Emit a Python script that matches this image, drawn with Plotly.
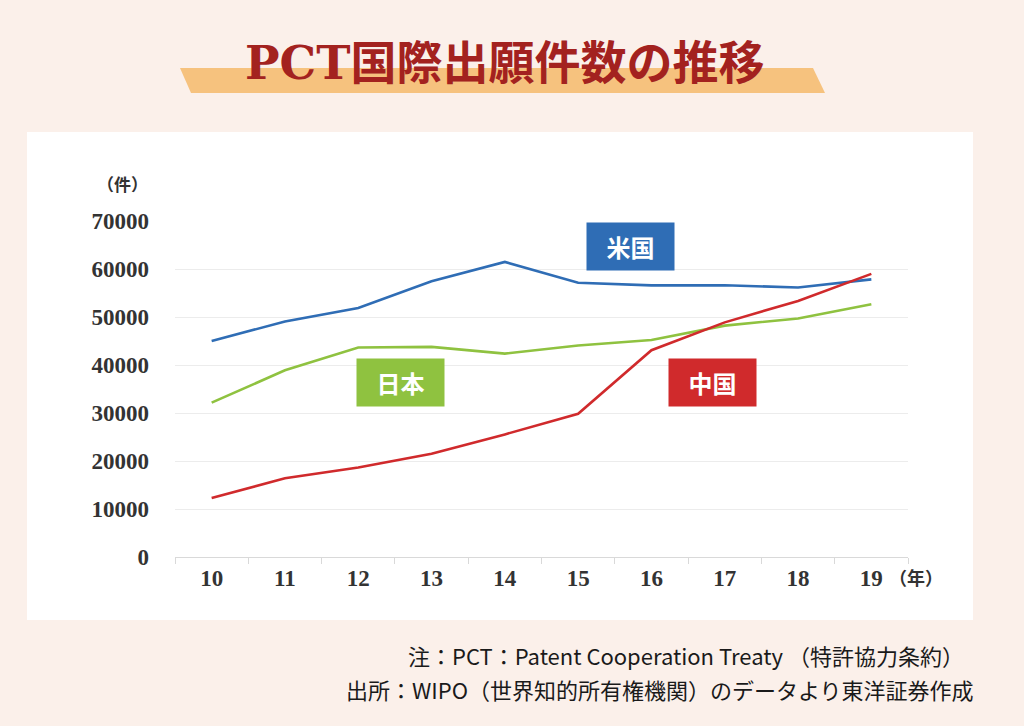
import plotly.graph_objects as go

years = ["10", "11", "12", "13", "14", "15", "16", "17", "18", "19"]
usa = [45008, 49056, 51877, 57441, 61484, 57121, 56595, 56624, 56142, 57840]
japan = [32150, 38888, 43660, 43771, 42381, 44053, 45209, 48205, 49702, 52660]
china = [12296, 16402, 18627, 21514, 25539, 29846, 43091, 48882, 53349, 58990]
y_ticks = [0, 10000, 20000, 30000, 40000, 50000, 60000, 70000]

W, H = 1024, 726
L, R, T, B = 175, 908, 221, 557


def px(x):
    return (x - L) / (R - L)


def py(y):
    return (B - y) / (B - T)


BLUE = "#2f6db5"
GREEN = "#8fc240"
RED = "#d02a2c"
BG = "#fbf0ea"
TICKFONT = dict(family="Liberation Serif", size=23, color="#333333", weight="bold")

fig = go.Figure()
for name, vals, col in [("米国", usa, BLUE), ("日本", japan, GREEN), ("中国", china, RED)]:
    fig.add_trace(go.Scatter(x=years, y=vals, mode="lines", name=name,
                             line=dict(color=col, width=2.6), showlegend=False))

shapes = [
    dict(type="rect", xref="paper", yref="paper", x0=px(27), x1=px(973), y0=py(620), y1=py(132),
         fillcolor="white", line=dict(width=0), layer="below"),
    dict(type="path", xref="paper", yref="paper",
         path=f"M {px(180)} {py(68)} L {px(813)} {py(68)} L {px(825)} {py(93)} L {px(191)} {py(93)} Z",
         fillcolor="#f6c27e", line=dict(width=0), layer="below"),
]


def ann(text, x, y, font, **kw):
    d = dict(text=text, xref="paper", yref="paper", x=px(x), y=py(y), showarrow=False,
             xanchor="center", yanchor="middle", font=font)
    d.update(kw)
    return d


LBL = dict(family="Noto Sans CJK JP", size=24, color="white", weight="bold")
NOTE = dict(family="Noto Sans CJK JP", size=22, color="#1a1a1a")

annotations = [
    ann("<b>PCT国際出願件数の推移</b>", 504, 63,
        dict(family="DejaVu Serif, Noto Sans CJK JP", size=46, color="#a3221f")),
    ann("（件）", 122, 186, dict(family="Liberation Serif, Noto Sans CJK JP", size=17, color="#333333", weight="bold")),
    ann("（年）", 916, 578, dict(family="Liberation Serif, Noto Sans CJK JP", size=18, color="#333333", weight="bold")),
    ann("米国", 630, 247, LBL, width=85, height=45, bgcolor=BLUE),
    ann("日本", 400, 382, LBL, width=85, height=45, bgcolor=GREEN),
    ann("中国", 712, 382, LBL, width=85, height=45, bgcolor=RED),
    ann("注：PCT：Patent Cooperation Treaty （特許協力条約）", 966, 655, NOTE, xanchor="right"),
    ann("出所：WIPO（世界知的所有権機関）のデータより東洋証券作成", 976, 689, NOTE, xanchor="right"),
]

fig.update_layout(
    width=W, height=H,
    margin=dict(l=L, r=W - R, t=T, b=H - B),
    paper_bgcolor=BG, plot_bgcolor="rgba(0,0,0,0)",
    shapes=shapes, annotations=annotations,
    xaxis=dict(type="category", tickson="boundaries", ticks="outside", ticklen=6,
               tickcolor="#d9d9d9", showline=True, linecolor="#d9d9d9", linewidth=1,
               showgrid=False, tickfont=TICKFONT, range=[-0.5, 9.5]),
    yaxis=dict(range=[0, 70000], tickvals=y_ticks, ticktext=[str(v) for v in y_ticks],
               showgrid=True, gridcolor="#ececec", gridwidth=1, zeroline=False,
               showline=False, tickfont=TICKFONT, ticklabelstandoff=25),
)

fig.write_html("out.html", config={"displayModeBar": False},
               post_script="document.body.style.margin='0';")
